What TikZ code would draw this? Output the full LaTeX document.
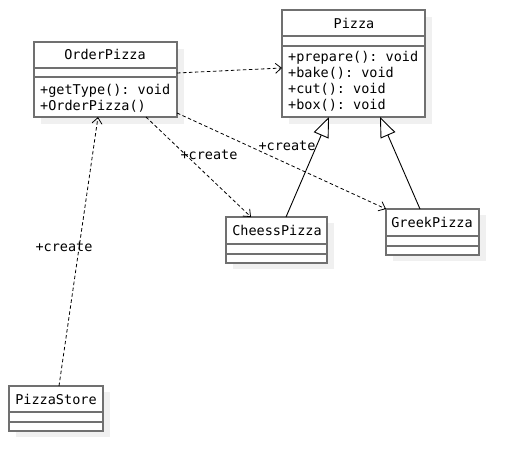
\documentclass[tikz,border=0pt]{standalone}
\usepackage{fontspec}
\setmonofont{DejaVu Sans Mono}
\usetikzlibrary{arrows.meta,calc}
\definecolor{boxgray}{RGB}{112,112,112}
\definecolor{shadowgray}{RGB}{240,240,240}
\begin{document}
\begin{tikzpicture}[x=1pt,y=-1pt,
  classbox/.style={draw=boxgray, line width=1.6pt, fill=white, inner sep=0pt, outer sep=0pt, anchor=north west},
  divider/.style={draw=boxgray, line width=1.6pt},
  txt/.style={font=\ttfamily\fontsize{13.5}{16}\selectfont, inner sep=0pt, text height=10pt, text depth=3pt},
  dep/.style={draw=black, line width=0.8pt, dash pattern=on 3.5pt off 2.5pt, -{Straight Barb[length=6pt,width=10pt]}},
  gen/.style={draw=black, line width=0.9pt, -{Triangle[open, length=20pt, width=16pt, fill=white]}}
]
\useasboundingbox (0,0) rectangle (518,471);
% shadows
\fill[shadowgray] (41,49) rectangle (184,124);
\fill[shadowgray] (289,17) rectangle (432,124);
\fill[shadowgray] (233,223) rectangle (334,269);
\fill[shadowgray] (393,215) rectangle (486,261);
\fill[shadowgray] (16,392) rectangle (110,437);
% boxes
\node[classbox, minimum width=143pt, minimum height=75pt] (op) at (34,42) {};
\node[classbox, minimum width=143pt, minimum height=107pt] (pz) at (282,10) {};
\node[classbox, minimum width=101pt, minimum height=46pt] (cp) at (226,217) {};
\node[classbox, minimum width=93pt, minimum height=46pt] (gp) at (386,209) {};
\node[classbox, minimum width=94pt, minimum height=45pt] (ps) at (9,386) {};
% dividers
\draw[divider] ($(op.north west)+(0,26)$) -- ($(op.north east)+(0,26)$);
\draw[divider] ($(op.north west)+(0,35)$) -- ($(op.north east)+(0,35)$);
\draw[divider] ($(pz.north west)+(0,26)$) -- ($(pz.north east)+(0,26)$);
\draw[divider] ($(pz.north west)+(0,36)$) -- ($(pz.north east)+(0,36)$);
\draw[divider] ($(cp.north west)+(0,27)$) -- ($(cp.north east)+(0,27)$);
\draw[divider] ($(cp.north west)+(0,37)$) -- ($(cp.north east)+(0,37)$);
\draw[divider] ($(gp.north west)+(0,27)$) -- ($(gp.north east)+(0,27)$);
\draw[divider] ($(gp.north west)+(0,37)$) -- ($(gp.north east)+(0,37)$);
\draw[divider] ($(ps.north west)+(0,26)$) -- ($(ps.north east)+(0,26)$);
\draw[divider] ($(ps.north west)+(0,36)$) -- ($(ps.north east)+(0,36)$);
% texts
\node[txt] (opT) at (105,56) {OrderPizza};
\node[txt, anchor=west] (opM1) at (40,91) {+getType(): void};
\node[txt, anchor=west] (opM2) at (40,107) {+OrderPizza()};
\node[txt] (pzT) at (354,25) {Pizza};
\node[txt, anchor=west] (pzM1) at (288,58) {+prepare(): void};
\node[txt, anchor=west] (pzM2) at (288,74) {+bake(): void};
\node[txt, anchor=west] (pzM3) at (288,90) {+cut(): void};
\node[txt, anchor=west] (pzM4) at (288,106) {+box(): void};
\node[txt] (cpT) at (277,232) {CheessPizza};
\node[txt] (gpT) at (432,224) {GreekPizza};
\node[txt] (psT) at (56,401) {PizzaStore};
% labels
\node[txt] (l1) at (64,248) {+create};
\node[txt] (l2) at (209,156) {+create};
\node[txt] (l3) at (287,147) {+create};
% connectors
\draw[dep] ($(op.north east)+(0,31)$) -- ($(pz.north west)+(0,58)$);
\draw[dep] ($(op.south west)+(112,0)$) -- ($(cp.north west)+(25,0)$);
\draw[dep] ($(op.south east)+(0,-4)$) -- (gp.north west);
\draw[dep] ($(ps.north west)+(50,0)$) -- ($(op.south west)+(64,0)$);
\draw[gen] ($(cp.north west)+(60,0)$) -- ($(pz.south west)+(47,0)$);
\draw[gen] ($(gp.north west)+(34,0)$) -- ($(pz.south west)+(98,0)$);
\end{tikzpicture}
\end{document}
